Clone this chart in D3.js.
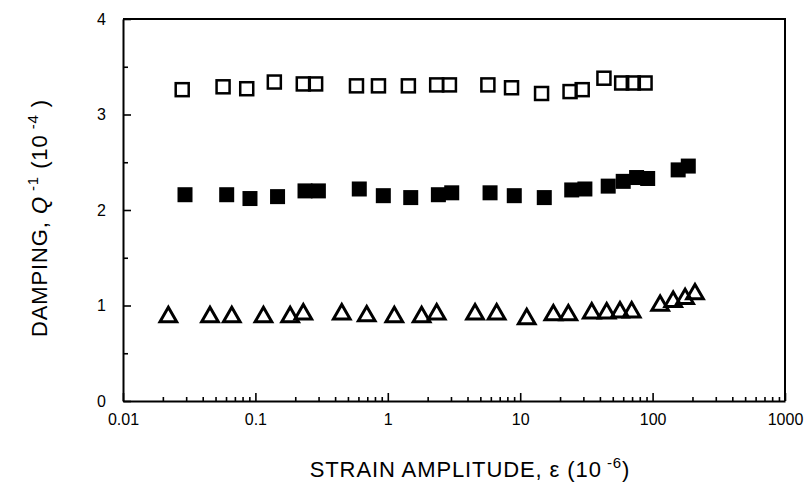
<!DOCTYPE html>
<html><head><meta charset="utf-8">
<script src="https://cdn.jsdelivr.net/npm/d3@7"></script>
<style>body{margin:0;background:#fff}svg{display:block}text{font-family:"Liberation Sans",Arial,sans-serif;fill:#000}</style>
</head><body>
<svg id="c" width="808" height="489"></svg>
<script>
// Open squares (upper series)
const openSqX = [0.028,0.057,0.086,0.139,0.23,0.285,0.58,0.85,1.43,2.34,2.92,5.7,8.6,14.5,23.8,29.4,42.9,58.4,71.5,87.7];
const openSqY = [3.26,3.29,3.27,3.34,3.32,3.32,3.30,3.30,3.30,3.31,3.31,3.31,3.28,3.22,3.24,3.26,3.38,3.33,3.33,3.33];
// Filled squares (middle series)
const fillSqX = [0.0294,0.0607,0.091,0.147,0.237,0.299,0.609,0.925,1.49,2.41,3.04,5.92,9.02,15.2,24.5,30.8,46.2,60.0,75.7,91.8,156,186];
const fillSqY = [2.16,2.16,2.12,2.14,2.20,2.20,2.22,2.15,2.13,2.16,2.18,2.18,2.15,2.13,2.21,2.22,2.25,2.30,2.34,2.33,2.42,2.46];
// Open triangles (lower series)
const triX = [0.022,0.0454,0.0663,0.115,0.183,0.23,0.449,0.693,1.12,1.80,2.34,4.56,6.64,11.2,17.8,23.1,34.7,45.0,56.7,69.5,114,143,176,209];
const triY = [0.88,0.88,0.88,0.88,0.88,0.91,0.91,0.89,0.88,0.88,0.91,0.91,0.91,0.86,0.90,0.90,0.92,0.92,0.93,0.93,1.00,1.04,1.07,1.12];
// Axis ticks
const xTicks = [0.01,0.1,1,10,100,1000];
const xTickLabels = ["0.01","0.1","1","10","100","1000"];
const yTicks = [0,1,2,3,4];
const yMinorTicks = [0.5,1.5,2.5,3.5];

const svg = d3.select("#c");
const L=123,R=785,T=19,B=401;
const x = d3.scaleLog().domain([0.01,1000]).range([L,R]);
const y = d3.scaleLinear().domain([0,4]).range([B,T]);

const xMinor = [];
for (let e=-2;e<3;e++) for (let k=2;k<10;k++) xMinor.push(k*Math.pow(10,e));

const gx = svg.append("g").attr("transform",`translate(0,${B})`);
gx.call(d3.axisBottom(x).tickValues(xTicks).tickFormat((d,i)=>xTickLabels[i]).tickSizeInner(-8).tickSizeOuter(0).tickPadding(13));
gx.append("g").call(d3.axisBottom(x).tickValues(xMinor).tickFormat("").tickSizeInner(-4).tickSizeOuter(0)).select(".domain").remove();
gx.selectAll("text").attr("font-size",16).attr("font-family","Liberation Sans, Arial, sans-serif");

const gy = svg.append("g").attr("transform",`translate(${L},0)`);
gy.call(d3.axisLeft(y).tickValues(yTicks).tickFormat(d3.format("d")).tickSizeInner(-8).tickSizeOuter(0).tickPadding(17));
gy.append("g").call(d3.axisLeft(y).tickValues(yMinorTicks).tickFormat("").tickSizeInner(-5).tickSizeOuter(0)).select(".domain").remove();
gy.selectAll("text").attr("font-size",16).attr("font-family","Liberation Sans, Arial, sans-serif");

svg.selectAll(".tick line").attr("stroke","#000").attr("stroke-width",1.6);
svg.selectAll(".domain").attr("stroke","#000").attr("stroke-width",2);

svg.append("path").attr("d",`M${L},${T}H${R}V${B}`).attr("fill","none").attr("stroke","#000").attr("stroke-width",2);

const s = 13;
svg.append("g").selectAll("rect").data(openSqX.map((d,i)=>[d,openSqY[i]])).join("rect")
  .attr("x",d=>x(d[0])-s/2).attr("y",d=>y(d[1])-s/2).attr("width",s).attr("height",s)
  .attr("fill","none").attr("stroke","#000").attr("stroke-width",2.5);
const fs = 15;
svg.append("g").selectAll("rect").data(fillSqX.map((d,i)=>[d,fillSqY[i]])).join("rect")
  .attr("x",d=>x(d[0])-fs/2).attr("y",d=>y(d[1])-fs/2).attr("width",fs).attr("height",fs)
  .attr("fill","#000");
const tri = d3.symbol(d3.symbolTriangle, 120);
svg.append("g").selectAll("path").data(triX.map((d,i)=>[d,triY[i]])).join("path")
  .attr("d",tri).attr("transform",d=>`translate(${x(d[0])},${y(d[1])})`)
  .attr("fill","none").attr("stroke","#000").attr("stroke-width",3).attr("stroke-linejoin","miter");

const xt = svg.append("text").attr("x",470).attr("y",477).attr("text-anchor","middle").attr("font-size",22).attr("letter-spacing",0.9);
xt.append("tspan").text("STRAIN AMPLITUDE, ε  (10");
xt.append("tspan").text(" -6").attr("font-size",15).attr("dy",-9);
xt.append("tspan").text(")").attr("dy",9);

const yt = svg.append("text").attr("transform","translate(47,218) rotate(-90)").attr("text-anchor","middle").attr("font-size",22).attr("letter-spacing",0.9);
yt.append("tspan").text("DAMPING, ");
yt.append("tspan").text("Q").attr("font-style","italic");
yt.append("tspan").text(" -1").attr("font-size",15).attr("dy",-9);
yt.append("tspan").text("  (10").attr("dy",9);
yt.append("tspan").text(" -4").attr("font-size",15).attr("dy",-9);
yt.append("tspan").text(" )").attr("dy",9);
</script>
</body></html>
